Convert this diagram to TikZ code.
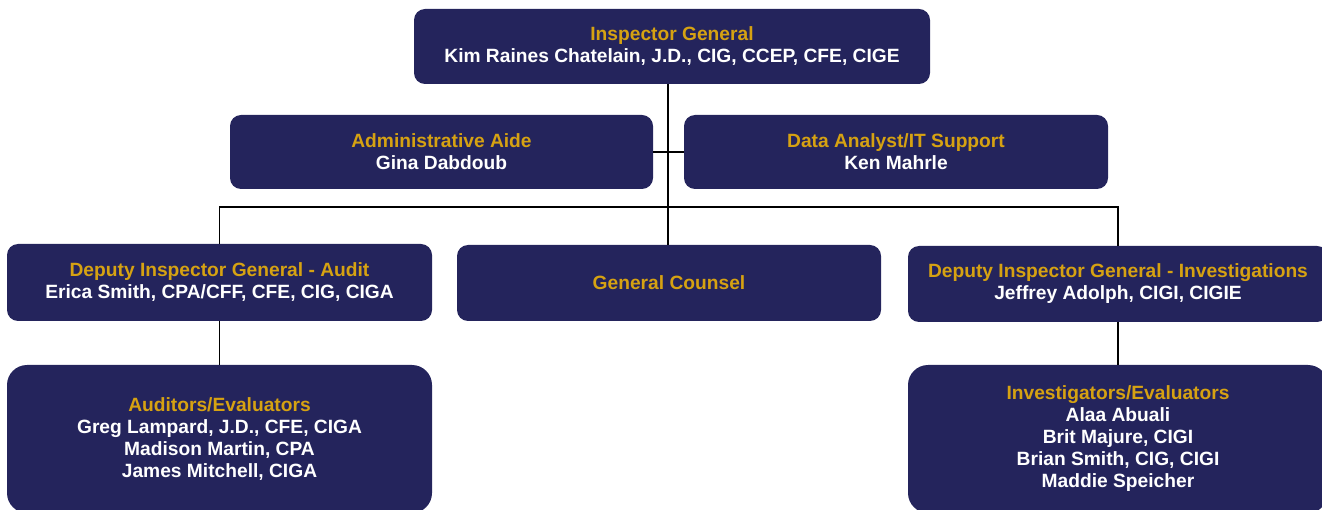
\documentclass[tikz,border=0pt]{standalone}
\usepackage{fontspec}
\setmainfont{Liberation Sans}
\definecolor{navy}{RGB}{36,36,92}
\definecolor{gold}{RGB}{214,162,18}
\begin{document}
\begin{tikzpicture}[x=1pt,y=-1pt,
  box/.style={fill=navy, rounded corners=11pt, text=white, align=center,
    inner sep=0pt, font=\bfseries\fontsize{19.2}{22}\selectfont},
  tallbox/.style={box, rounded corners=20pt},
  link/.style={draw=black, line width=1.6pt}]
\useasboundingbox (0,0) rectangle (1322,510);
\clip (0,0) rectangle (1322,510);

% leadership
\node[box, minimum width=516pt, minimum height=75pt] (ig) at (672,46.5)
  {\textcolor{gold}{Inspector General}\\Kim Raines Chatelain, J.D., CIG, CCEP, CFE, CIGE};
\node[box, minimum width=423pt, minimum height=74pt] (aide) at (441.5,152)
  {\textcolor{gold}{Administrative Aide}\\Gina Dabdoub};
\node[box, minimum width=424pt, minimum height=74pt] (data) at (896,152)
  {\textcolor{gold}{Data Analyst/IT Support}\\Ken Mahrle};

% second tier
\node[box, minimum width=425pt, minimum height=77pt] (dga) at (219.5,282.5)
  {\textcolor{gold}{Deputy Inspector General - Audit}\\Erica Smith, CPA/CFF, CFE, CIG, CIGA};
\node[box, minimum width=424pt, minimum height=76pt] (gc) at (669,283)
  {\textcolor{gold}{General Counsel}};
\node[box, minimum width=420pt, minimum height=76pt] (dgi) at (1118,284)
  {\textcolor{gold}{Deputy Inspector General - Investigations}\\Jeffrey Adolph, CIGI, CIGIE};

% teams
\node[tallbox, minimum width=425pt, minimum height=148pt] (aud) at (219.5,439)
  {\textcolor{gold}{Auditors/Evaluators}\\Greg Lampard, J.D., CFE, CIGA\\Madison Martin, CPA\\James Mitchell, CIGA};
\node[tallbox, minimum width=420pt, minimum height=148pt] (inv) at (1118,439)
  {\textcolor{gold}{Investigators/Evaluators}\\Alaa Abuali\\Brit Majure, CIGI\\Brian Smith, CIG, CIGI\\Maddie Speicher};

% connectors
\coordinate (bus) at (668,207);
\draw[link] (ig.south -| bus) -- (gc.north -| bus);
\draw[link] (aide.east) -- (data.west);
\draw[link] (dga.north) |- (bus) -| (dgi.north);
\draw[link] (dga.south) -- (aud.north);
\draw[link] (dgi.south) -- (inv.north);
\end{tikzpicture}
\end{document}
